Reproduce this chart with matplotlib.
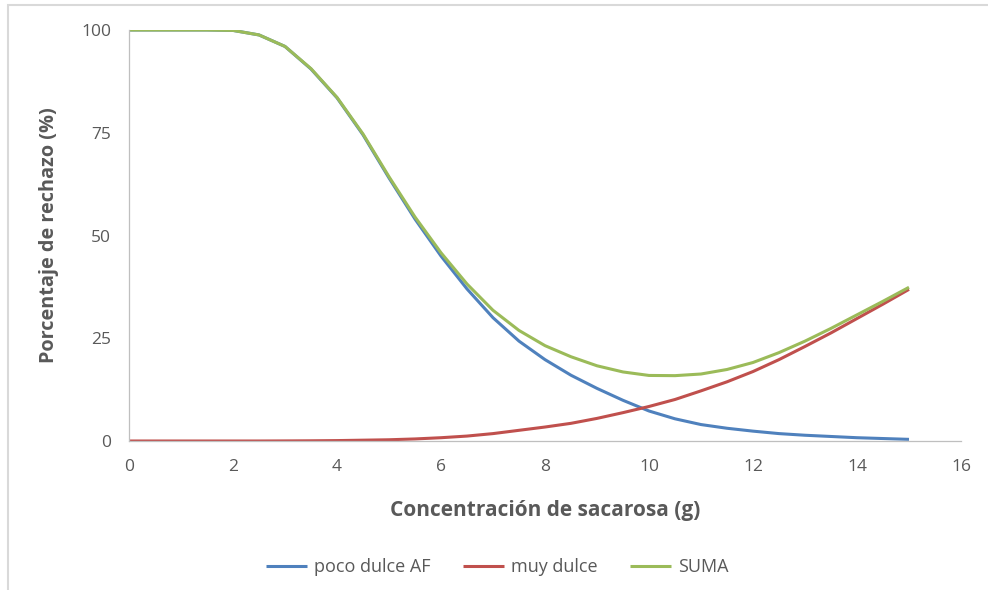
import matplotlib
matplotlib.use("Agg")
import matplotlib.pyplot as plt
from matplotlib.patches import Rectangle

plt.rcParams["font.family"] = ["Open Sans", "DejaVu Sans"]

# concentracion (g)
conc = [0, 0.5, 1, 1.5, 2, 2.5, 3, 3.5, 4, 4.5, 5, 5.5, 6, 6.5, 7, 7.5,
        8, 8.5, 9, 9.5, 10, 10.5, 11, 11.5, 12, 12.5, 13, 13.5, 14, 14.5, 15]

poco_dulce = [100, 100, 100, 100, 99.9, 98.8, 96.0, 90.5, 83.5, 74.5, 64.0, 54.0,
              45.0, 37.0, 30.0, 24.3, 19.8, 16.0, 12.8, 9.9, 7.3, 5.4, 4.0, 3.1,
              2.4, 1.8, 1.4, 1.1, 0.8, 0.6, 0.4]

muy_dulce = [0, 0, 0, 0, 0, 0, 0.02, 0.05, 0.1, 0.2, 0.3, 0.5,
             0.8, 1.2, 1.8, 2.6, 3.4, 4.3, 5.5, 6.9, 8.4, 10.1, 12.2, 14.4,
             16.9, 19.8, 23.0, 26.3, 29.8, 33.3, 36.9]

suma = [100, 100, 100, 100, 99.9, 98.8, 96.0, 90.6, 83.6, 74.7, 64.3, 54.5,
        45.8, 38.2, 31.8, 26.9, 23.2, 20.5, 18.3, 16.8, 15.95, 15.9, 16.3, 17.4,
        19.1, 21.5, 24.3, 27.4, 30.7, 34.0, 37.4]

x_ticks = [0, 2, 4, 6, 8, 10, 12, 14, 16]
y_ticks = [0, 25, 50, 75, 100]

fig = plt.figure(figsize=(9.88, 5.9), dpi=100)
ax = fig.add_axes([129 / 988, 1 - 441 / 590, 832 / 988, 411 / 590])

ax.plot(conc, poco_dulce, color="#4F81BD", lw=2.2, label="poco dulce AF", solid_capstyle="butt")
ax.plot(conc, muy_dulce, color="#C0504D", lw=2.2, label="muy dulce", solid_capstyle="butt")
ax.plot(conc, suma, color="#9BBB59", lw=2.2, label="SUMA", solid_capstyle="butt")

ax.set_xlim(0, 16)
ax.set_ylim(0, 100)
ax.set_xticks(x_ticks)
ax.set_yticks(y_ticks)
ax.tick_params(length=0, labelsize=12.5, labelcolor="#595959")
ax.tick_params(axis="x", pad=13)
ax.tick_params(axis="y", pad=13)
for s in ["top", "right"]:
    ax.spines[s].set_visible(False)
ax.spines["left"].set_color("#BFBFBF")
ax.spines["bottom"].set_color("#BFBFBF")
ax.spines["left"].set_linewidth(0.9)
ax.spines["bottom"].set_linewidth(0.9)

ax.set_xlabel("Concentración de sacarosa (g)", fontsize=15, fontweight="bold",
              color="#595959", labelpad=18)
ax.set_ylabel("Porcentaje de rechazo (%)", fontsize=14.3, fontweight="bold",
              color="#595959", labelpad=16)

fig.legend(loc="center", bbox_to_anchor=(497 / 988, 1 - 567 / 590), ncol=3,
           frameon=False, fontsize=13, handlelength=2.3, handletextpad=0.35,
           columnspacing=1.8, labelcolor="#595959")

# chart area border (cropped)
fig.patches.append(Rectangle((8 / 988, -0.1), 1.2, 1 - 5 / 590 + 0.1,
                             transform=fig.transFigure, fill=False,
                             edgecolor="#D9D9D9", lw=1.5, clip_on=False))

fig.savefig("out.png", dpi=100, facecolor="white")
